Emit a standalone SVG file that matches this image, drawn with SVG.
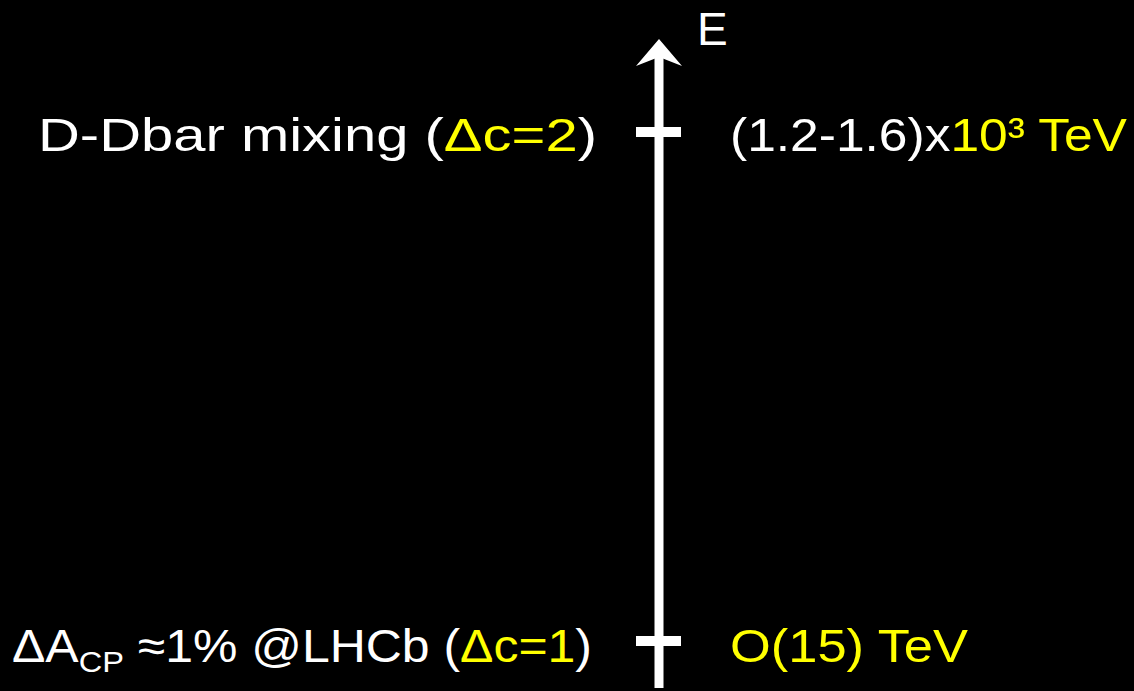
<svg xmlns="http://www.w3.org/2000/svg" width="1134" height="691" viewBox="0 0 1134 691">
<style>
.t{font-family:"Liberation Sans","DejaVu Sans",sans-serif;font-size:46px;fill:#ffffff}
.y{fill:#ffff00}
.ax{fill:#ffffff}
</style>
<rect width="1134" height="691" fill="#000000"/>
<g id="axis">
<rect class="ax" x="654.5" y="55" width="9" height="633"/>
<polygon class="ax" points="659,39 682,66 659,57 636,66"/>
<text class="t" x="697" y="45" font-size="32">E</text>
</g>
<g id="ticks">
<rect class="ax" x="636" y="127" width="45" height="10"/>
<rect class="ax" x="636" y="636" width="45" height="10"/>
</g>
<g id="node-mixing">
<text class="t" x="38" y="151" textLength="559" lengthAdjust="spacingAndGlyphs">D-Dbar mixing (<tspan class="y">Δc=2</tspan>)</text>
<text class="t" x="730" y="151" textLength="397" lengthAdjust="spacingAndGlyphs">(1.2-1.6)x<tspan class="y">10³ TeV</tspan></text>
</g>
<g id="node-acp">
<text class="t" x="12" y="662" textLength="580" lengthAdjust="spacingAndGlyphs">ΔA<tspan font-size="30" dy="10">CP</tspan><tspan dy="-10"> ≈1% @LHCb (</tspan><tspan class="y">Δc=1</tspan>)</text>
<text class="t y" x="730" y="662" textLength="238" lengthAdjust="spacingAndGlyphs">O(15) TeV</text>
</g>
</svg>
